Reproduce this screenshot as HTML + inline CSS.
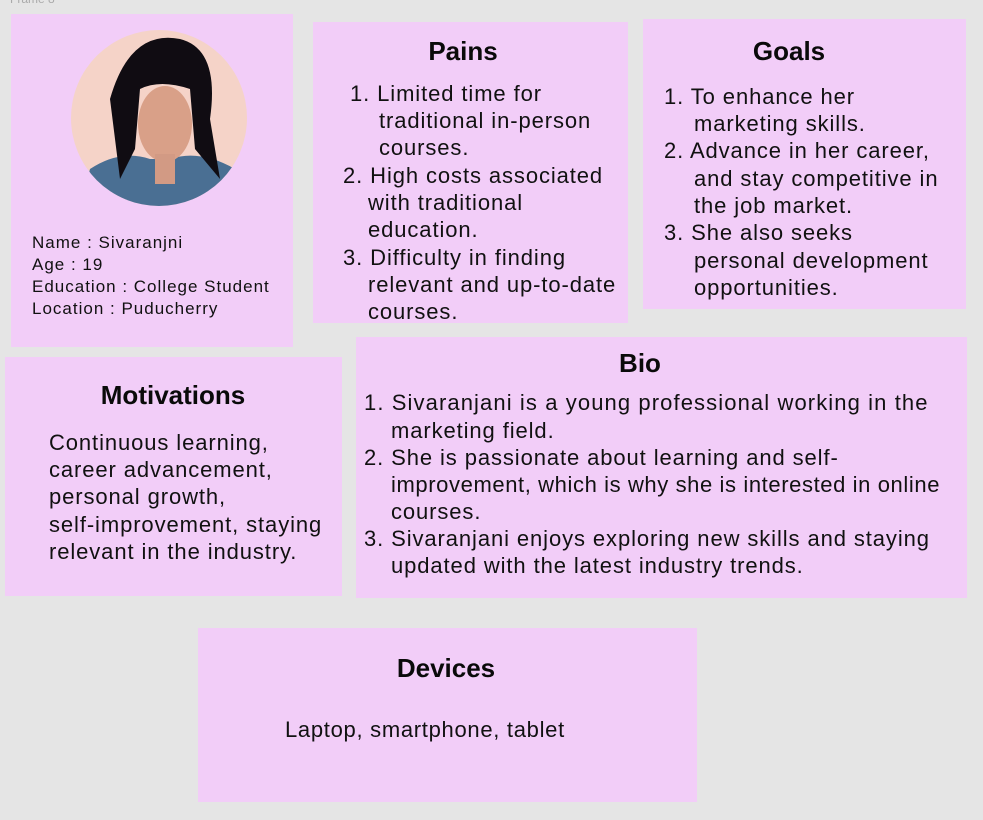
<!DOCTYPE html>
<html><head><meta charset="utf-8"><style>
body{margin:0;width:983px;height:820px;background:#e5e5e5;font-family:"Liberation Sans",sans-serif;color:#111;position:relative;overflow:hidden}
.box{position:absolute;background:#f2cdf8}
.t{position:absolute;white-space:nowrap;font-size:22px;letter-spacing:0.9px;line-height:27px}
.h{position:absolute;font-weight:bold;font-size:26px;white-space:nowrap;transform:translateX(-50%);color:#0a0a0a}
.p{position:absolute;font-size:17px;letter-spacing:1px;line-height:22px;white-space:nowrap}
</style></head><body>
<div style="position:absolute;left:10px;top:-8px;font-size:12px;color:#aaa">Frame 8</div>

<div class="box" style="left:11px;top:14px;width:282px;height:333px">
 <svg style="position:absolute;left:59px;top:15px" width="178" height="178">
  <defs><clipPath id="c"><circle cx="89" cy="89" r="88"/></clipPath></defs>
  <g clip-path="url(#c)">
   <rect width="178" height="178" fill="#f5d3c8"/>
   <path d="M10 178 L20 140 Q50 120 80 130 L100 130 Q130 120 165 140 L175 178Z" fill="#4a6f93"/>
   <path d="M40 70 Q60 0 110 10 Q150 20 140 90 L150 150 L125 120 L120 60 Q90 50 70 60 L65 120 L50 150Z" fill="#100c12"/>
   <ellipse cx="95" cy="95" rx="27" ry="38" fill="#d9a088"/>
   <rect x="85" y="125" width="20" height="30" fill="#d29a84"/>
  </g>
 </svg>
 <div class="p" style="left:21px;top:218px">Name : Sivaranjni</div>
 <div class="p" style="left:21px;top:240px">Age : 19</div>
 <div class="p" style="left:21px;top:262px">Education : College Student</div>
 <div class="p" style="left:21px;top:284px">Location : Puducherry</div>
</div>

<div class="box" style="left:313px;top:22px;width:315px;height:301px">
 <div class="h" style="left:150px;top:14px">Pains</div>
 <div>
 <div class="t" style="left:37px;top:58px">1. Limited time for</div>
 <div class="t" style="left:66px;top:85px">traditional in-person</div>
 <div class="t" style="left:66px;top:112px">courses.</div>
 <div class="t" style="left:30px;top:140px">2. High costs associated</div>
 <div class="t" style="left:55px;top:167px">with traditional</div>
 <div class="t" style="left:55px;top:194px">education.</div>
 <div class="t" style="left:30px;top:222px">3. Difficulty in finding</div>
 <div class="t" style="left:55px;top:249px">relevant and up-to-date</div>
 <div class="t" style="left:55px;top:276px">courses.</div>
 </div>
</div>

<div class="box" style="left:643px;top:19px;width:323px;height:290px">
 <div class="h" style="left:146px;top:17px">Goals</div>
 <div>
 <div class="t" style="left:21px;top:64px">1. To enhance her</div>
 <div class="t" style="left:51px;top:91px">marketing skills.</div>
 <div class="t" style="left:21px;top:118px">2. Advance in her career,</div>
 <div class="t" style="left:51px;top:146px">and stay competitive in</div>
 <div class="t" style="left:51px;top:173px">the job market.</div>
 <div class="t" style="left:21px;top:200px">3. She also seeks</div>
 <div class="t" style="left:51px;top:228px">personal development</div>
 <div class="t" style="left:51px;top:255px">opportunities.</div>
 </div>
</div>

<div class="box" style="left:5px;top:357px;width:337px;height:239px">
 <div class="h" style="left:168px;top:23px">Motivations</div>
 <div>
 <div class="t" style="left:44px;top:72px">Continuous learning,</div>
 <div class="t" style="left:44px;top:99px">career advancement,</div>
 <div class="t" style="left:44px;top:126px">personal growth,</div>
 <div class="t" style="left:44px;top:154px">self-improvement, staying</div>
 <div class="t" style="left:44px;top:181px">relevant in the industry.</div>
 </div>
</div>

<div class="box" style="left:356px;top:337px;width:611px;height:261px">
 <div class="h" style="left:284px;top:11px">Bio</div>
 <div>
 <div class="t" style="left:8px;top:52px;letter-spacing:1.1px">1. Sivaranjani is a young professional working in the</div>
 <div class="t" style="left:35px;top:80px">marketing field.</div>
 <div class="t" style="left:8px;top:107px">2. She is passionate about learning and self-</div>
 <div class="t" style="left:35px;top:134px;letter-spacing:0.6px">improvement, which is why she is interested in online</div>
 <div class="t" style="left:35px;top:161px">courses.</div>
 <div class="t" style="left:8px;top:188px">3. Sivaranjani enjoys exploring new skills and staying</div>
 <div class="t" style="left:35px;top:215px">updated with the latest industry trends.</div>
 </div>
</div>

<div class="box" style="left:198px;top:628px;width:499px;height:174px">
 <div class="h" style="left:248px;top:25px">Devices</div>
 <div class="t" style="left:87px;top:88px;letter-spacing:0.7px">Laptop, smartphone, tablet</div>
</div>
</body></html>
